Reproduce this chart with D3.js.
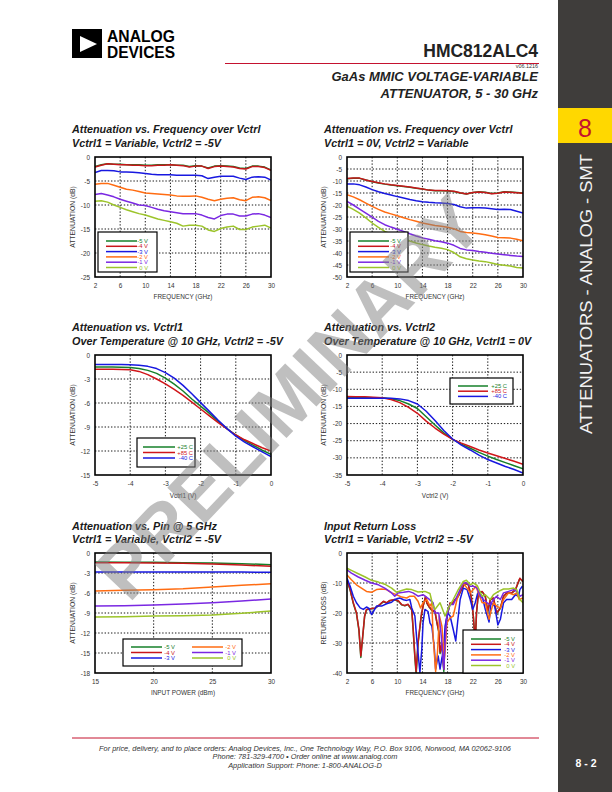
<!DOCTYPE html>
<html><head><meta charset="utf-8">
<script src="https://cdn.jsdelivr.net/npm/d3@7"></script>
<style>
html,body{margin:0;padding:0;background:#fff;}
svg{display:block;font-family:"Liberation Sans",Arial,Helvetica,sans-serif;}
</style></head><body>
<svg id="page" width="612" height="792"></svg>
<script>
// ---------- DATA ----------
const freq = [2,3,4,5,6,7,8,9,10,11,12,13,14,15,16,17,18,19,20,21,22,23,24,25,26,27,28,29,30];
const vLabels = ["-5 V","-4 V","-3 V","-2 V","-1 V","0 V"];
const tLabels = ["+25 C","+85 C","-40 C"];

// Chart 1: Attenuation vs Frequency, Vctrl1 variable
const c1_m5 = [-2.0,-1.6,-1.4,-1.5,-1.5,-1.6,-1.6,-1.6,-1.7,-1.7,-1.6,-1.6,-1.6,-1.7,-1.7,-2.0,-1.8,-1.9,-2.3,-1.9,-1.8,-1.9,-2.0,-2.3,-2.4,-1.9,-1.9,-2.1,-2.7];
const c1_m4 = [-2.1,-1.7,-1.4,-1.5,-1.6,-1.6,-1.7,-1.7,-1.8,-1.8,-1.7,-1.7,-1.6,-1.7,-1.8,-2.1,-1.9,-1.9,-2.4,-2.0,-1.9,-2.0,-2.1,-2.4,-2.5,-2.0,-2.0,-2.2,-2.8];
const c1_m3 = [-3.25,-2.8,-2.8,-2.85,-3.1,-3.1,-3.2,-3.3,-3.45,-3.6,-3.7,-3.7,-3.7,-3.8,-3.8,-3.8,-3.8,-3.9,-4.5,-4.2,-4.0,-4.0,-4.0,-4.4,-4.7,-4.2,-4.1,-4.2,-4.8];
const c1_m2 = [-5.7,-5.5,-5.5,-5.9,-6.3,-6.7,-6.9,-7.2,-7.5,-7.6,-7.7,-7.8,-7.9,-8.1,-8.2,-8.2,-8.1,-8.4,-8.8,-9.1,-8.8,-8.6,-8.5,-8.9,-9.1,-8.4,-8.3,-8.5,-9.1];
const c1_m1 = [-7.8,-7.6,-7.9,-8.3,-8.8,-9.2,-9.6,-10.0,-10.1,-10.5,-10.9,-11.2,-11.4,-11.6,-11.8,-11.8,-11.8,-12.1,-12.6,-12.9,-12.2,-11.9,-11.9,-12.3,-12.3,-11.9,-11.8,-12.1,-12.6];
const c1_0  = [-9.2,-9.1,-9.4,-10.0,-10.5,-11.0,-11.4,-11.8,-12.1,-12.5,-12.9,-13.2,-13.5,-13.8,-14.4,-14.2,-14.2,-14.4,-15.2,-15.5,-14.9,-14.6,-14.4,-15.1,-15.1,-14.6,-14.4,-14.2,-14.8];

// Chart 2: Attenuation vs Frequency, Vctrl2 variable
const c2_m5 = [-9.1,-8.9,-8.9,-9.6,-10.3,-10.8,-11.3,-11.7,-12.0,-12.3,-12.6,-13.0,-13.3,-13.8,-14.1,-14.1,-14.2,-14.4,-15.0,-15.4,-14.8,-14.5,-14.7,-15.2,-15.0,-14.5,-14.6,-14.8,-15.0];
const c2_m4 = [-9.0,-8.8,-8.8,-9.6,-10.2,-10.7,-11.2,-11.6,-11.9,-12.2,-12.5,-12.9,-13.3,-13.8,-14.0,-14.0,-14.1,-14.3,-14.9,-15.4,-14.8,-14.6,-14.8,-15.3,-15.1,-14.6,-14.7,-14.9,-15.1];
const c2_m3 = [-11.3,-11.2,-11.6,-12.5,-13.6,-14.5,-15.2,-15.8,-16.5,-17.1,-17.7,-18.2,-18.6,-18.9,-19.1,-19.2,-19.4,-19.8,-20.7,-21.3,-21.1,-21.1,-21.3,-21.6,-21.9,-21.8,-21.9,-22.6,-23.3];
const c2_m2 = [-15.7,-16.6,-17.8,-19.2,-20.6,-21.8,-22.9,-23.7,-24.5,-25.3,-26.1,-26.8,-27.5,-28.0,-28.5,-28.9,-29.3,-29.9,-31.0,-31.5,-31.7,-32.0,-32.4,-32.9,-33.5,-33.6,-33.8,-34.3,-34.9];
const c2_m1 = [-18.5,-20.0,-21.7,-23.4,-25.1,-26.8,-28.2,-29.2,-30.1,-31.0,-32.0,-32.9,-33.7,-34.3,-34.9,-35.3,-35.9,-36.8,-38.1,-38.7,-39.0,-39.4,-39.7,-40.1,-40.4,-40.7,-41.0,-41.3,-41.5];
const c2_0  = [-20.5,-21.8,-23.4,-25.4,-27.5,-29.3,-31.0,-32.1,-33.0,-34.0,-35.0,-35.8,-36.5,-37.1,-37.6,-38.0,-38.6,-39.8,-41.6,-42.4,-42.9,-43.3,-43.6,-44.2,-44.8,-45.1,-45.4,-46.0,-46.2];

// Charts 3 & 4: control voltage sweep
const volts = [-5,-4.75,-4.5,-4.25,-4,-3.75,-3.5,-3.25,-3,-2.75,-2.5,-2.25,-2,-1.75,-1.5,-1.25,-1,-0.75,-0.5,-0.25,0];
const c3_p25 = [-1.5,-1.5,-1.5,-1.52,-1.56,-1.68,-1.92,-2.3,-2.9,-3.65,-4.5,-5.5,-6.4,-7.3,-8.3,-9.2,-10.0,-10.7,-11.3,-11.9,-12.4];
const c3_p85 = [-1.78,-1.78,-1.78,-1.8,-1.85,-2.05,-2.45,-3.0,-3.6,-4.3,-5.05,-5.9,-6.75,-7.6,-8.45,-9.25,-10.0,-10.6,-11.1,-11.6,-12.0];
const c3_m40 = [-1.2,-1.2,-1.2,-1.2,-1.22,-1.28,-1.42,-1.7,-2.2,-2.9,-3.8,-4.85,-5.95,-7.05,-8.15,-9.2,-10.15,-10.9,-11.5,-12.1,-12.7];
const c4_p25 = [-12.3,-12.35,-12.4,-12.45,-12.5,-12.75,-13.3,-14.3,-15.6,-18.0,-20.4,-22.7,-24.6,-26.0,-27.2,-28.4,-29.5,-30.5,-31.4,-32.3,-33.2];
const c4_p85 = [-12.1,-12.15,-12.2,-12.3,-12.5,-13.0,-13.9,-15.3,-17.0,-19.3,-21.3,-23.1,-24.6,-25.7,-26.7,-27.7,-28.6,-29.4,-30.2,-31.0,-31.9];
const c4_m40 = [-12.6,-12.6,-12.6,-12.6,-12.6,-12.65,-12.8,-13.3,-14.3,-16.4,-19.1,-22.0,-24.5,-26.3,-27.7,-29.2,-30.5,-31.5,-32.5,-33.4,-34.4];

// Chart 5: Attenuation vs input power
const pin = [15,17.5,20,22.5,25,27.5,30];
const c5_m5 = [-1.35,-1.37,-1.4,-1.45,-1.5,-1.6,-1.75];
const c5_m4 = [-1.45,-1.47,-1.5,-1.55,-1.65,-1.8,-2.0];
const c5_m3 = [-2.85,-2.85,-2.85,-2.85,-2.85,-2.85,-2.9];
const c5_m2 = [-5.7,-5.6,-5.5,-5.35,-5.1,-4.85,-4.6];
const c5_m1 = [-7.95,-7.9,-7.8,-7.65,-7.45,-7.2,-6.9];
const c5_0  = [-9.6,-9.55,-9.45,-9.4,-9.3,-9.05,-8.7];

// Chart 6: Input return loss, [GHz, dB]
const c6_m5 = [[2,-9],[2.5,-12.4],[3,-16.8],[3.5,-20.1],[3.9,-25.8],[4.2,-34.8],[4.5,-27.9],[4.8,-21.2],[5.1,-18.9],[5.7,-18.7],[6.5,-18.4],[7.2,-17.3],[7.8,-16.2],[8.3,-16.7],[8.8,-15.9],[9.6,-15.6],[10.2,-16.1],[10.7,-17.3],[11.2,-17.6],[11.7,-17.2],[12.3,-19],[12.5,-24.8],[12.8,-35],[13,-40.5],[13.3,-30.2],[13.8,-21.2],[14.1,-17.8],[14.5,-14.6],[14.7,-16.7],[15.1,-18.1],[15.5,-19.2],[16,-19.7],[16.3,-23.2],[16.6,-26.3],[16.8,-33.5],[17.1,-30.3],[17.4,-39.5],[17.6,-27.3],[17.9,-21.2],[18.4,-16.8],[18.7,-17.1],[19.2,-15.6],[19.7,-14.5],[20.3,-11.8],[20.8,-10.1],[21.3,-10.6],[21.75,-14.6],[22.1,-21.3],[22.4,-30.3],[22.6,-20.2],[22.9,-13.4],[23.5,-12.9],[24,-14.5],[24.4,-19.6],[24.8,-15.6],[25.3,-15.1],[25.8,-20.2],[26.4,-18.4],[26.9,-14.5],[27.4,-13.4],[28.2,-13.4],[28.8,-12.3],[29.2,-10.1],[29.5,-8.5],[30,-9.6]];
const c6_m4 = [[2,-8.9],[2.5,-12.2],[3,-16.6],[3.5,-19.9],[3.9,-25.5],[4.2,-34.3],[4.5,-27.7],[4.8,-21],[5.1,-18.8],[5.7,-18.6],[6.5,-18.3],[7.2,-17.2],[7.8,-16.1],[8.3,-16.6],[8.8,-15.8],[9.6,-15.5],[10.2,-16],[10.7,-17.2],[11.2,-17.5],[11.7,-17.1],[12.3,-18.8],[12.5,-24.4],[12.8,-34.3],[13,-39.5],[13.3,-29.9],[13.8,-21],[14.1,-17.7],[14.5,-14.5],[14.7,-16.6],[15.1,-18],[15.5,-19],[16,-19.5],[16.3,-23],[16.6,-26],[16.8,-33],[17.1,-30],[17.4,-38.7],[17.6,-27],[17.9,-21],[18.4,-16.6],[18.7,-17],[19.2,-15.5],[19.7,-14.4],[20.3,-11.7],[20.8,-10],[21.3,-10.5],[21.75,-14.4],[22.1,-21],[22.4,-29.9],[22.6,-20],[22.9,-13.3],[23.5,-12.8],[24,-14.4],[24.4,-19.4],[24.8,-15.5],[25.3,-15],[25.8,-20],[26.4,-18.3],[26.9,-14.4],[27.4,-13.3],[28.2,-13.3],[28.8,-12.2],[29.2,-10],[29.5,-8.4],[30,-9.5]];
const c6_m3 = [[2,-8.4],[2.5,-11.1],[3,-14.4],[3.5,-16.6],[4.1,-18.3],[4.6,-18.8],[5.1,-18],[5.5,-18.5],[5.9,-20.5],[6.2,-19.5],[6.7,-17.7],[7.5,-17.7],[8.3,-16.9],[9.1,-16.4],[9.6,-15.5],[10.4,-15],[11,-15.6],[11.5,-15.8],[12,-15.5],[12.3,-18.3],[12.8,-21],[13.1,-28.8],[13.3,-33.2],[13.6,-39.8],[13.9,-32],[14.1,-23.3],[14.4,-18.8],[14.9,-19.5],[15.2,-23.3],[15.5,-24.4],[15.9,-32],[16.1,-38.7],[16.5,-34.3],[16.8,-38.7],[17.1,-35],[17.4,-32],[17.6,-24.4],[18,-20],[18.4,-21],[18.9,-25.5],[19.3,-29.3],[19.6,-23],[20,-15.5],[20.5,-11.7],[21.1,-12.2],[21.6,-15.5],[22,-18.8],[22.4,-16.6],[22.8,-13.3],[23.5,-14.4],[24,-18.8],[24.6,-23],[24.9,-16.6],[25.5,-17.7],[26,-24],[26.4,-22.1],[26.9,-16.6],[27.4,-15.5],[28.2,-15.5],[28.8,-13.9],[29.3,-14.4],[29.5,-12.2],[29.9,-11.1]];
const c6_m2 = [[2,-7.3],[2.7,-8.9],[3.5,-10.6],[4.3,-11.7],[5.1,-12.8],[5.9,-13.1],[6.7,-12.2],[7.5,-12],[8.3,-12.2],[9.1,-13.3],[9.9,-13.9],[10.7,-14.7],[11.5,-15],[12,-14.4],[12.7,-14.4],[13.3,-16.1],[13.7,-18.3],[14.1,-16.6],[14.7,-15.5],[15.2,-17.7],[15.5,-16.6],[15.7,-27.7],[16.1,-39.5],[16.4,-33],[16.7,-21],[17.1,-24.4],[17.5,-35.4],[17.9,-23.3],[18.4,-21.6],[18.9,-21],[19.5,-15.5],[20,-12.2],[20.5,-10],[21.1,-11.7],[21.6,-13.3],[22.1,-12.2],[22.5,-11.1],[22.9,-13.3],[23.5,-16.6],[24,-16.6],[24.6,-22.1],[24.9,-19.4],[25.3,-16.6],[25.8,-17.7],[26.4,-18.3],[26.9,-15.5],[27.7,-13.3],[28.5,-13.9],[29,-13.3],[29.4,-15.5],[30,-15]];
const c6_m1 = [[2,-5.6],[2.7,-6.7],[3.8,-8],[4.9,-9.1],[5.9,-10],[7,-10.6],[8,-11.7],[9.1,-13.3],[9.6,-14.4],[10.1,-13.3],[11,-13.1],[11.8,-12.8],[12.5,-13.3],[13.3,-14.4],[14.1,-13.9],[15,-15.3],[15.7,-16.6],[16,-20],[16.6,-20],[17,-27.7],[17.4,-38.7],[17.6,-30],[17.9,-20.5],[18.4,-17.2],[18.9,-17.2],[19.5,-14.4],[20,-12.2],[20.5,-10],[21.1,-10],[21.6,-11.1],[22.1,-11.1],[22.7,-11.7],[23.2,-14.4],[23.7,-15.5],[24.3,-16.6],[24.8,-17.2],[25.3,-15.5],[25.8,-14.4],[26.4,-15.5],[26.9,-13.3],[27.7,-12.8],[28.5,-12.2],[29,-12.8],[29.5,-14.4],[30,-13.9]];
const c6_0  = [[2,-5.1],[2.7,-5.8],[3.8,-6.9],[4.9,-8],[5.9,-9.1],[7,-9.7],[8,-10.4],[9.1,-11.7],[9.9,-13.1],[10.7,-12.5],[11.5,-12],[12.3,-12.2],[13.3,-13],[14.4,-12.8],[15.2,-13.5],[15.6,-17],[16,-18.8],[16.8,-16.6],[17.6,-21],[18.1,-18.5],[18.9,-15.5],[19.7,-12.2],[20.5,-9.5],[21,-9.1],[21.6,-10.6],[22.1,-10],[22.7,-10.8],[23.5,-14.4],[24,-13.9],[24.8,-15.5],[25.3,-13.9],[26.1,-12.8],[26.9,-12],[27.7,-12],[28.5,-11.7],[29,-12.2],[29.5,-15.5],[30,-16.6]];

// Tick values
const freqTicks = [2,6,10,14,18,22,26,30];
const voltTicks = [-5,-4,-3,-2,-1,0];
const pinTicks = [15,20,25,30];

// ---------- STYLE ----------
const vColors = ["#16802a","#c8161a","#1818e0","#ff6c12","#7a28e2","#9cc42a"];
const tColors = ["#16802a","#d0161a","#1818e0"];
const FONT = '"Liberation Sans",Arial,Helvetica,sans-serif';
const CRIMSON = "#c4122f";

const svg = d3.select("#page");
svg.append("rect").attr("width",612).attr("height",792).attr("fill","#fff");

// ---------- HEADER ----------
svg.append("rect").attr("x",72).attr("y",29).attr("width",30).attr("height",29).attr("fill","#000");
svg.append("polygon").attr("points","80,36 80,52 97,44").attr("fill","#fff");
svg.append("text").attr("x",107).attr("y",41.5).attr("font-size",16).attr("font-weight","bold")
  .attr("textLength",68).attr("lengthAdjust","spacingAndGlyphs").attr("fill","#000").text("ANALOG");
svg.append("text").attr("x",107).attr("y",57.5).attr("font-size",16).attr("font-weight","bold")
  .attr("textLength",68).attr("lengthAdjust","spacingAndGlyphs").attr("fill","#000").text("DEVICES");
svg.append("text").attr("x",538).attr("y",57).attr("text-anchor","end").attr("font-size",17.5)
  .attr("font-weight","bold").attr("fill","#222").text("HMC812ALC4");
svg.append("line").attr("x1",225).attr("x2",539).attr("y1",63.5).attr("y2",63.5).attr("stroke",CRIMSON).attr("stroke-width",1.2);
svg.append("text").attr("x",538).attr("y",68.3).attr("text-anchor","end").attr("font-size",5.4).attr("fill","#333").text("v06.1216");
svg.append("text").attr("x",538).attr("y",80.5).attr("text-anchor","end").attr("font-size",13)
  .attr("font-weight","bold").attr("font-style","italic").attr("fill","#222").text("GaAs MMIC VOLTAGE-VARIABLE");
svg.append("text").attr("x",538).attr("y",97.5).attr("text-anchor","end").attr("font-size",13)
  .attr("font-weight","bold").attr("font-style","italic").attr("fill","#222").text("ATTENUATOR, 5 - 30 GHz");

// ---------- SIDEBAR ----------
svg.append("rect").attr("x",558).attr("y",0).attr("width",54).attr("height",792).attr("fill","#3f3d3b");
svg.append("rect").attr("x",558).attr("y",108).attr("width",54).attr("height",35).attr("fill","#ffd800");
svg.append("text").attr("x",585).attr("y",136.5).attr("text-anchor","middle").attr("font-size",25)
  .attr("fill",CRIMSON).text("8");
svg.append("text").attr("transform","translate(592,294) rotate(-90)").attr("text-anchor","middle")
  .attr("font-size",16).attr("fill","#f2f2f2").attr("textLength",280).attr("lengthAdjust","spacingAndGlyphs")
  .text("ATTENUATORS - ANALOG - SMT");
svg.append("text").attr("x",586).attr("y",767).attr("text-anchor","middle").attr("font-size",10.5)
  .attr("font-weight","bold").attr("fill","#fff").text("8 - 2");

// ---------- FOOTER ----------
svg.append("line").attr("x1",72).attr("x2",539).attr("y1",738).attr("y2",738).attr("stroke",CRIMSON).attr("stroke-width",1);
const footLines = [
  "For price, delivery, and to place orders: Analog Devices, Inc., One Technology Way, P.O. Box 9106, Norwood, MA 02062-9106",
  "Phone: 781-329-4700 \u2022 Order online at www.analog.com",
  "Application Support: Phone: 1-800-ANALOG-D"];
svg.append("g").selectAll("text").data(footLines).join("text")
  .attr("x",305).attr("y",(d,i)=>750.5+i*8.8).attr("text-anchor","middle")
  .attr("font-size",7.4).attr("font-style","italic").attr("fill","#333").text(d=>d);

// ---------- CHARTS ----------
let clipId = 0;
function drawChart(cfg){
  const g = svg.append("g");
  const x = d3.scaleLinear().domain(cfg.xDomain).range([cfg.left, cfg.right]);
  const y = d3.scaleLinear().domain(cfg.yDomain).range([cfg.bottom, cfg.top]);

  g.append("text").attr("x",cfg.tx).attr("y",cfg.ty).attr("font-size",10.8).attr("font-weight","bold")
    .attr("font-style","italic").attr("fill","#1a1a1a").text(cfg.title1);
  g.append("text").attr("x",cfg.tx).attr("y",cfg.ty+13.5).attr("font-size",10.8).attr("font-weight","bold")
    .attr("font-style","italic").attr("fill","#1a1a1a").text(cfg.title2);

  const grid = g.append("g").attr("stroke","#000").attr("stroke-width",0.9).attr("stroke-dasharray","1.4,1.8");
  grid.selectAll("line.v").data(cfg.xTicks.slice(1,-1)).join("line").attr("class","v")
    .attr("x1",d=>x(d)).attr("x2",d=>x(d)).attr("y1",cfg.top).attr("y2",cfg.bottom);
  grid.selectAll("line.h").data(cfg.yTicks.slice(1,-1)).join("line").attr("class","h")
    .attr("y1",d=>y(d)).attr("y2",d=>y(d)).attr("x1",cfg.left).attr("x2",cfg.right);

  const xa = g.append("g").attr("transform",`translate(0,${cfg.bottom})`)
    .call(d3.axisBottom(x).tickValues(cfg.xTicks).tickSize(0).tickPadding(6.5).tickFormat(d=>String(d)));
  const ya = g.append("g").attr("transform",`translate(${cfg.left},0)`)
    .call(d3.axisLeft(y).tickValues(cfg.yTicks).tickSize(0).tickPadding(5).tickFormat(d=>String(d)));
  [xa,ya].forEach(a=>{
    a.select(".domain").remove();
    a.attr("font-family",FONT).attr("font-size",6.4);
    a.selectAll("text").attr("fill","#333");
  });
  g.append("text").attr("x",(cfg.left+cfg.right)/2).attr("y",cfg.bottom+cfg.xTitleDy)
    .attr("text-anchor","middle").attr("font-size",6.4).attr("fill","#333").text(cfg.xTitle);
  g.append("text").attr("transform",`translate(${cfg.left-cfg.yTitleDx},${(cfg.top+cfg.bottom)/2}) rotate(-90)`)
    .attr("text-anchor","middle").attr("font-size",6.8).attr("fill","#333").text(cfg.yTitle);

  const cid = "clip"+(clipId++);
  g.append("clipPath").attr("id",cid).append("rect")
    .attr("x",cfg.left).attr("y",cfg.top).attr("width",cfg.right-cfg.left).attr("height",cfg.bottom-cfg.top);

  const line = d3.line().x(d=>x(d[0])).y(d=>y(d[1]));
  g.append("g").attr("clip-path",`url(#${cid})`).selectAll("path").data(cfg.series).join("path")
    .attr("d",s=>line(s.points)).attr("fill","none").attr("stroke",s=>s.color)
    .attr("stroke-width",1.5).attr("stroke-linejoin","round");

  g.append("rect").attr("x",cfg.left).attr("y",cfg.top).attr("width",cfg.right-cfg.left)
    .attr("height",cfg.bottom-cfg.top).attr("fill","none").attr("stroke","#000").attr("stroke-width",1.6);

  const L = cfg.legend;
  const lg = g.append("g");
  lg.append("rect").attr("x",L.x).attr("y",L.y).attr("width",L.w).attr("height",L.h)
    .attr("fill","#fff").attr("stroke","#000").attr("stroke-width",1.2);
  L.items.forEach((it,i)=>{
    const col = L.cols ? Math.floor(i/L.perCol) : 0;
    const row = L.cols ? i%L.perCol : i;
    const c = L.colDefs[col];
    const yy = L.row0 + row*L.rowStep;
    lg.append("line").attr("x1",c.x1).attr("x2",c.x2).attr("y1",yy).attr("y2",yy)
      .attr("stroke",it.color).attr("stroke-width",1.5);
    lg.append("text").attr("x",c.lx).attr("y",yy+2).attr("text-anchor","end")
      .attr("font-size",5.8).attr("fill",it.color).text(it.label);
  });
}

function mk(xs, labels, colors, arrs){
  return arrs.map((a,i)=>({label:labels[i], color:colors[i], points:d3.zip(xs,a)}));
}

const s1 = mk(freq,vLabels,vColors,[c1_m5,c1_m4,c1_m3,c1_m2,c1_m1,c1_0]);
drawChart({left:95,right:271,top:157,bottom:277,xDomain:[2,30],yDomain:[-25,0],
  xTicks:freqTicks,yTicks:[-25,-20,-15,-10,-5,0],
  title1:"Attenuation vs. Frequency over Vctrl",title2:"Vctrl1 = Variable, Vctrl2 = -5V",tx:72,ty:133,
  xTitle:"FREQUENCY (GHz)",yTitle:"ATTENUATION (dB)",xTitleDy:22,yTitleDx:20,series:s1,
  legend:{x:98,y:232,w:59,h:40,row0:241,rowStep:5.3,items:s1,colDefs:[{x1:106,x2:137,lx:148}]}});

const s2 = mk(freq,vLabels,vColors,[c2_m5,c2_m4,c2_m3,c2_m2,c2_m1,c2_0]);
drawChart({left:347,right:523,top:157,bottom:277,xDomain:[2,30],yDomain:[-50,0],
  xTicks:freqTicks,yTicks:[-50,-45,-40,-35,-30,-25,-20,-15,-10,-5,0],
  title1:"Attenuation vs. Frequency over Vctrl",title2:"Vctrl1 = 0V, Vctrl2 = Variable",tx:324,ty:133,
  xTitle:"FREQUENCY (GHz)",yTitle:"ATTENUATION (dB)",xTitleDy:22,yTitleDx:21,series:s2,
  legend:{x:350,y:232,w:58,h:40,row0:241,rowStep:5.3,items:s2,colDefs:[{x1:358,x2:389,lx:401}]}});

const s3 = mk(volts,tLabels,tColors,[c3_p25,c3_p85,c3_m40]);
drawChart({left:95,right:271,top:355,bottom:475,xDomain:[-5,0],yDomain:[-15,0],
  xTicks:voltTicks,yTicks:[-15,-12,-9,-6,-3,0],
  title1:"Attenuation vs. Vctrl1",title2:"Over Temperature @ 10 GHz, Vctrl2 = -5V",tx:72,ty:331,
  xTitle:"Vctrl1 (V)",yTitle:"ATTENUATION (dB)",xTitleDy:23,yTitleDx:20,series:s3,
  legend:{x:137,y:438,w:58,h:29,row0:447,rowStep:5.5,items:s3,colDefs:[{x1:143,x2:175,lx:193}]}});

const s4 = mk(volts,tLabels,tColors,[c4_p25,c4_p85,c4_m40]);
drawChart({left:347,right:523,top:355,bottom:475,xDomain:[-5,0],yDomain:[-35,0],
  xTicks:voltTicks,yTicks:[-35,-30,-25,-20,-15,-10,-5,0],
  title1:"Attenuation vs. Vctrl2",title2:"Over Temperature @ 10 GHz, Vctrl1 = 0V",tx:324,ty:331,
  xTitle:"Vctrl2 (V)",yTitle:"ATTENUATION (dB)",xTitleDy:23,yTitleDx:21,series:s4,
  legend:{x:450,y:378,w:63,h:26,row0:386,rowStep:5.2,items:s4,colDefs:[{x1:458,x2:488,lx:507}]}});

const s5 = mk(pin,vLabels,vColors,[c5_m5,c5_m4,c5_m3,c5_m2,c5_m1,c5_0]);
drawChart({left:95,right:271,top:553,bottom:673,xDomain:[15,30],yDomain:[-18,0],
  xTicks:pinTicks,yTicks:[-18,-15,-12,-9,-6,-3,0],
  title1:"Attenuation vs. Pin @ 5 GHz",title2:"Vctrl1 = Variable, Vctrl2 = -5V",tx:72,ty:529.5,
  xTitle:"INPUT POWER (dBm)",yTitle:"ATTENUATION (dB)",xTitleDy:22,yTitleDx:20,series:s5,
  legend:{x:123,y:639,w:119,h:27,row0:647,rowStep:5.5,cols:2,perCol:3,items:s5,
    colDefs:[{x1:131,x2:162,lx:175},{x1:192,x2:223,lx:236}]}});

const s6 = [c6_m5,c6_m4,c6_m3,c6_m2,c6_m1,c6_0].map((a,i)=>({label:vLabels[i],color:vColors[i],points:a}));
drawChart({left:347,right:523,top:553,bottom:673,xDomain:[2,30],yDomain:[-40,0],
  xTicks:freqTicks,yTicks:[-40,-30,-20,-10,0],
  title1:"Input Return Loss",title2:"Vctrl1 = Variable, Vctrl2 = -5V",tx:324,ty:529.5,
  xTitle:"FREQUENCY (GHz)",yTitle:"RETURN LOSS (dB)",xTitleDy:22,yTitleDx:21,series:s6,
  legend:{x:463,y:630,w:60,h:43,row0:639,rowStep:5.3,items:s6,colDefs:[{x1:471,x2:501,lx:515}]}});

// ---------- WATERMARK ----------
svg.append("text").attr("transform","translate(289,397) rotate(-46.5)")
  .attr("text-anchor","middle").attr("dominant-baseline","central")
  .attr("font-size",76).attr("font-weight","bold").attr("fill","#808080").attr("fill-opacity",0.5)
  .text("PRELIMINARY");
</script></body></html>
